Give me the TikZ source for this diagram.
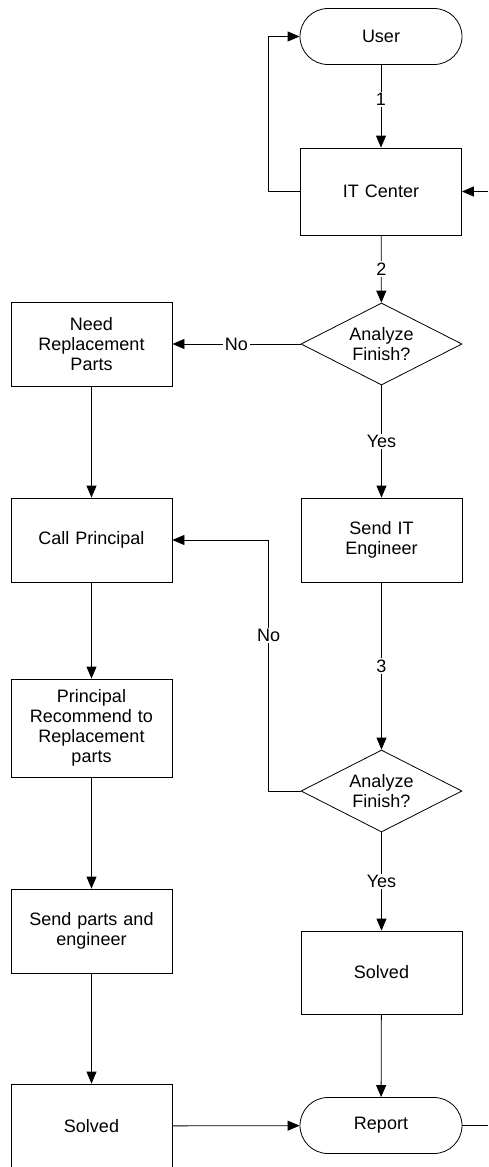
\documentclass[tikz,border=0pt]{standalone}
\usepackage{fontspec}
\setmainfont{Liberation Sans}
\usetikzlibrary{shapes.geometric,arrows.meta}
\tikzset{
    box/.style={draw, rectangle, minimum width=161pt, minimum height=84pt, text width=150pt, align=center, inner sep=0pt},
    term/.style={draw, rectangle, rounded corners=28pt, minimum width=162pt, minimum height=56pt, inner sep=0pt},
    decide/.style={draw, diamond, aspect=1.96, minimum width=161pt, minimum height=82pt, align=center, inner sep=0pt},
    arr/.style={-{Triangle[length=12pt,width=10pt]}},
    lbl/.style={fill=white, inner sep=1.5pt}
}
\begin{document}
\begin{tikzpicture}[x=1pt, y=-1pt, line width=0.8pt, font=\fontsize{18pt}{20pt}\selectfont]
        \useasboundingbox (0,0) rectangle (488,1167);
        % right column
        \node[term] (user) at (381,36.5) {User};
        \node[box, minimum height=87pt] (itc) at (381,191.5) {IT Center};
        \node[decide] (ask1) at (381.5,344) {Analyze\\Finish?};
        \node[box] (sendit) at (381.5,540) {Send IT\\Engineer};
        \node[decide] (ask2) at (381.5,791) {Analyze\\Finish?};
        \node[box, minimum height=83pt] (solvedr) at (381.5,972.5) {Solved};
        \node[term] (report) at (381,1125.5) {Report};
        % left column
        \node[box] (need) at (91.5,344) {Need\\Replacement\\Parts};
        \node[box] (call) at (91.5,540) {Call Principal};
        \node[box, minimum height=98pt] (recommend) at (91.5,728) {Principal\\Recommend to\\Replacement\\parts};
        \node[box] (sendparts) at (91.5,931) {Send parts and\\engineer};
        \node[box] (solvedl) at (91.5,1126) {Solved};
        % free ends at the right border
        \coordinate (inright) at (488,191.5);
        \coordinate (outright) at (488,1125.5);

        \draw[arr] (user) -- node[lbl, pos=0.42] {1} (itc);
        \draw[arr] (itc) -- node[lbl] {2} (ask1);
        \draw[arr] (ask1) -- node[lbl] {No} (need);
        \draw[arr] (ask1) -- node[lbl] {Yes} (sendit);
        \draw[arr] (sendit) -- node[lbl] {3} (ask2);
        \draw[arr] (ask2) -- node[lbl] {Yes} (solvedr);
        \draw[arr] (solvedr) -- (report);
        \draw[arr] (ask2.west) -- ++(-32,0) |- node[lbl, pos=0.31] {No} (call.east);
        \draw[arr] (itc.west) -- ++(-32,0) |- (user.west);
        \draw[arr] (inright) -- (itc.east);
        \draw (report.east) -- (outright);

        \draw[arr] (need) -- (call);
        \draw[arr] (call) -- (recommend);
        \draw[arr] (recommend) -- (sendparts);
        \draw[arr] (sendparts) -- (solvedl);
        \draw[arr] (solvedl) -- (report);
    \end{tikzpicture}
\end{document}
